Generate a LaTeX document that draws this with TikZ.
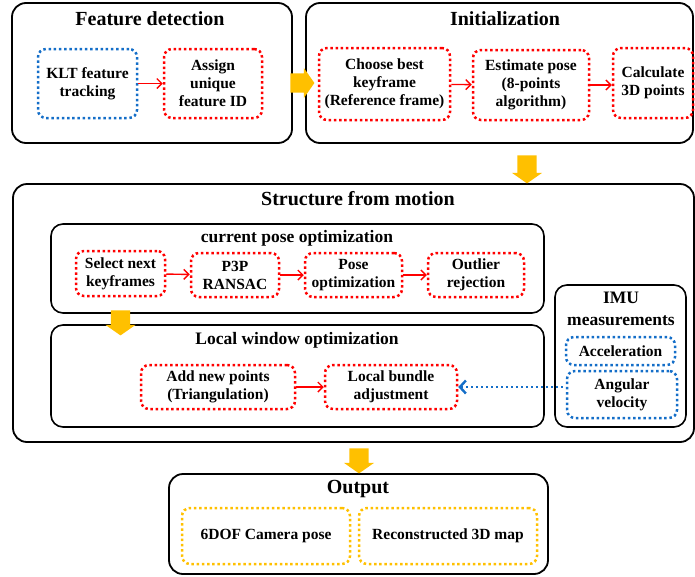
\documentclass[tikz,border=0pt]{standalone}
\usepackage{fontspec}
\setmainfont{Liberation Serif}
\usetikzlibrary{shapes.arrows,arrows.meta}
\definecolor{dotred}{RGB}{255,0,0}
\definecolor{dotblue}{RGB}{20,110,200}
\definecolor{flowyellow}{RGB}{255,192,0}

\tikzset{
  stage/.style={draw, line width=1.8pt, rounded corners=14pt, inner sep=0pt},
  substage/.style={draw, line width=1.6pt, rounded corners=12pt, inner sep=0pt},
  stagetitle/.style={font=\bfseries\fontsize{20}{23}\selectfont, inner sep=0pt},
  subtitle/.style={font=\bfseries\fontsize{17.5}{22}\selectfont, inner sep=0pt, align=center},
  dotbox/.style={line width=2.5pt, dash pattern=on 2.5pt off 2.7pt, rounded corners=8pt, align=center, inner sep=0pt, font=\bfseries\fontsize{15.5}{18}\selectfont},
  redbox/.style={dotbox, draw=dotred},
  bluebox/.style={dotbox, draw=dotblue},
  yellowbox/.style={dotbox, draw=flowyellow},
  flow/.style={single arrow, fill=flowyellow, inner xsep=0pt, inner ysep=9.5pt, single arrow head extend=5.5pt, single arrow tip angle=110},
  link/.style={->, draw=dotred, line width=1.4pt}
}

\begin{document}
\begin{tikzpicture}[x=1pt, y=-1pt, >={Straight Barb[length=5pt,width=10pt]}]
\useasboundingbox (0,0) rectangle (695,576);

% stages
\node[stage, minimum width=280pt, minimum height=140pt] (feat) at (152,73) {};
\node[stage, minimum width=387pt, minimum height=140pt] (init) at (499.5,73) {};
\node[stage, minimum width=681pt, minimum height=258pt] (sfm) at (353.5,313) {};
\node[stage, minimum width=379pt, minimum height=100pt] (out) at (358.5,524) {};
\node[substage, minimum width=493pt, minimum height=89pt] (cur) at (297.5,268.5) {};
\node[substage, minimum width=493pt, minimum height=102pt] (local) at (297.5,376) {};
\node[substage, minimum width=131pt, minimum height=142pt] (imu) at (620.5,356) {};

% titles
\node[stagetitle] (feattitle) at (150,19) {Feature detection};
\node[stagetitle] (inittitle) at (505,19) {Initialization};
\node[stagetitle] (sfmtitle) at (358,199) {Structure from motion};
\node[stagetitle] (outtitle) at (358,489) {Output};
\node[subtitle] (curtitle) at (297,238) {current pose optimization};
\node[subtitle] (localtitle) at (297,340) {Local window optimization};
\node[subtitle] (imutitle) at (621,309) {IMU\\measurements};

% feature detection
\node[bluebox, minimum width=99pt, minimum height=69pt] (klt) at (87.5,83.5) {KLT feature\\tracking};
\node[redbox, minimum width=98pt, minimum height=69pt] (assign) at (213,83.5) {Assign\\unique\\feature ID};

% initialization
\node[redbox, minimum width=131pt, minimum height=72pt] (choose) at (384.5,84) {Choose best\\keyframe\\(Reference frame)};
\node[redbox, minimum width=116pt, minimum height=70pt] (estimate) at (531,85) {Estimate pose\\(8-points\\algorithm)};
\node[redbox, minimum width=80pt, minimum height=70pt] (calc) at (653,83) {Calculate\\3D points};

% current pose optimization
\node[redbox, minimum width=89pt, minimum height=45pt] (select) at (120.5,273.5) {Select next\\keyframes};
\node[redbox, minimum width=88pt, minimum height=44pt] (p3p) at (235,275) {P3P\\RANSAC};
\node[redbox, minimum width=97pt, minimum height=44pt] (poseopt) at (353.5,275) {Pose\\optimization};
\node[redbox, minimum width=96pt, minimum height=44pt] (outlier) at (476,275) {Outlier\\rejection};

% local window optimization
\node[redbox, minimum width=154pt, minimum height=44pt] (addpts) at (218,387) {Add new points\\(Triangulation)};
\node[redbox, minimum width=132pt, minimum height=44pt] (bundle) at (391,387) {Local bundle\\adjustment};

% imu
\node[bluebox, minimum width=109pt, minimum height=28pt] (accel) at (620.5,351) {Acceleration};
\node[bluebox, minimum width=110pt, minimum height=47pt] (angular) at (622,394.5) {Angular\\velocity};

% output
\node[yellowbox, minimum width=168pt, minimum height=56pt] (campose) at (266,536) {6DOF Camera pose};
\node[yellowbox, minimum width=178pt, minimum height=56pt] (map3d) at (448,536) {Reconstructed 3D map};

% flow arrows
\node[flow, minimum height=24pt] (flowa) at (299,83) {};
\node[flow, minimum height=28pt, rotate=-90] (flowb) at (527,166) {};
\node[flow, minimum height=25pt, rotate=-90] (flowc) at (120.5,319.5) {};
\node[flow, minimum height=25pt, rotate=-90] (flowd) at (359,457.5) {};

% links
\draw[link] (klt) -- (assign);
\draw[link] (choose) -- (estimate);
\draw[link] (estimate.east) -- (calc.west |- estimate.east);
\draw[link] (select) -- (p3p);
\draw[link] (p3p) -- (poseopt);
\draw[link] (poseopt) -- (outlier);
\draw[link] (addpts) -- (bundle);
\draw[<-, draw=dotblue, line width=2.4pt, dash pattern=on 2.4pt off 2.6pt, >={Straight Barb[length=6pt,width=13pt]}] (bundle.east) -- (bundle.east -| angular.west);
\end{tikzpicture}
\end{document}
